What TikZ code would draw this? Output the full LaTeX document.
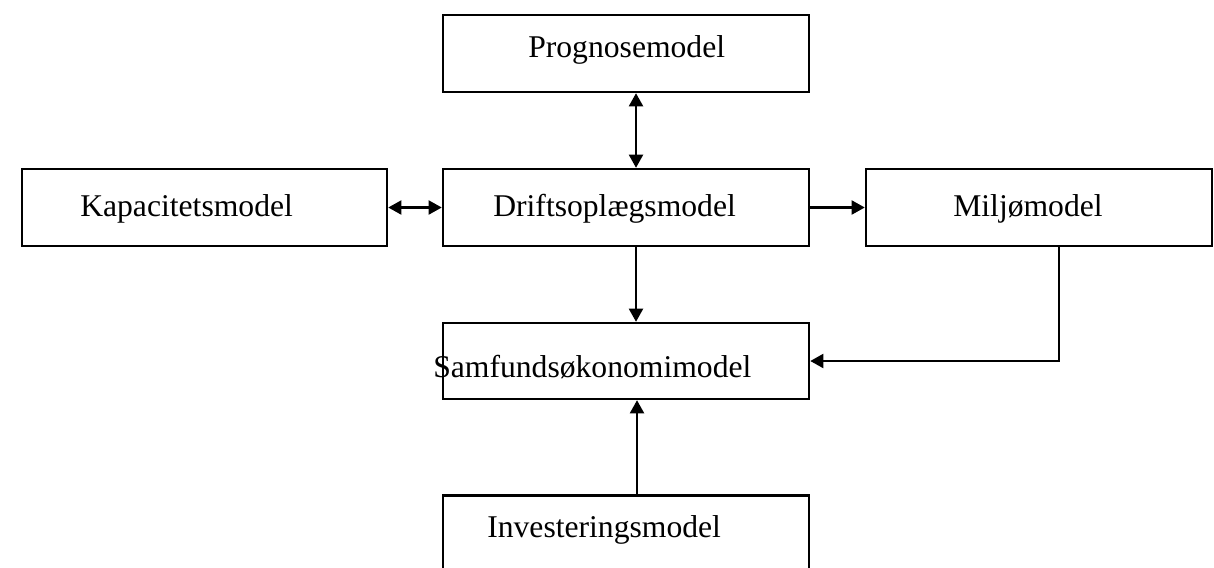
\documentclass[tikz,border=0pt]{standalone}
\usepackage{fontspec}
\setmainfont{Liberation Serif}
\usetikzlibrary{positioning,arrows.meta}

\tikzset{
	modelbox/.style={draw, line width=1.7pt, minimum width=9.15cm, minimum height=1.925cm, inner sep=0pt},
	modeltext/.style={anchor=base west, inner sep=0pt, font=\fontsize{22.5}{27}\selectfont},
	link/.style={line width=1.7pt, -{Triangle[length=3.3mm,width=3.5mm]}},
	twolink/.style={line width=1.7pt, {Triangle[length=3.3mm,width=3.5mm]}-{Triangle[length=3.3mm,width=3.5mm]}}
}

\begin{document}
\begin{tikzpicture}[x=0.025cm,y=-0.025cm]
		\clip (0,0) rectangle (1214,567);

		% Boxes
		\node[modelbox] (prog) at (626,53.5) {};
		\node[modelbox] (drift) at (626,207.5) {};
		\node[modelbox, minimum width=9.125cm] (kap) at (204.5,207.5) {};
		\node[modelbox, minimum width=8.65cm] (milj) at (1039,207.5) {};
		\node[modelbox, minimum height=1.9cm] (samf) at (626,361) {};
		\node[modelbox] (inv) at (626,534) {};

		% Labels
		\node[modeltext] (progtxt) at (528,57) {Prognosemodel};
		\node[modeltext] (drifttxt) at (493,216.5) {Driftsoplægsmodel};
		\node[modeltext] (kaptxt) at (80,216.5) {Kapacitetsmodel};
		\node[modeltext] (miljtxt) at (953,216.5) {Miljømodel};
		\node[modeltext] (samftxt) at (433,377) {Samfundsøkonomimodel};
		\node[modeltext] (invtxt) at (487,537) {Investeringsmodel};

		% Connections
		\draw[twolink] ([xshift=0.25cm]prog.south) -- ([xshift=0.25cm]drift.north);
		\draw[twolink] (kap.east) -- (drift.west);
		\draw[link] (drift.east) -- (milj.west);
		\draw[link] ([xshift=0.25cm]drift.south) -- ([xshift=0.25cm]samf.north);
		\draw[link] ([xshift=0.5cm]milj.south) |- (samf.east);
		\draw[link] ([xshift=0.275cm]inv.north) -- ([xshift=0.275cm]samf.south);
\end{tikzpicture}
\end{document}
